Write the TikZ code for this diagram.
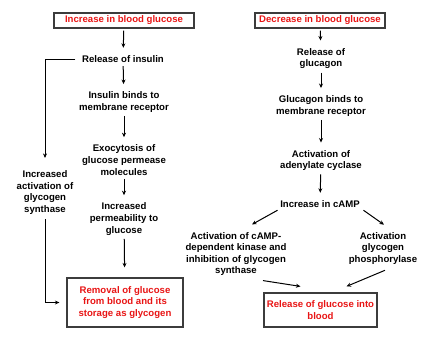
\documentclass[tikz,border=0pt]{standalone}
\usepackage{fontspec}
\setmainfont{Liberation Sans}
\usetikzlibrary{arrows.meta,calc}
\definecolor{mred}{RGB}{232,20,20}
\definecolor{boxgray}{RGB}{60,60,60}
\begin{document}
\begin{tikzpicture}[x=1pt,y=-1pt,
  txt/.style={font=\bfseries\fontsize{9.6}{11.6}\selectfont, align=center, inner sep=1.5pt},
  redbox/.style={draw=boxgray, line width=1.2pt, font=\bfseries\fontsize{9.6}{11.6}\selectfont, text=mred, align=center, inner sep=0pt},
  arr/.style={-{Stealth[length=4.5pt,width=4pt]}, line width=1pt},
  down/.style={arr, shorten <=2pt, shorten >=6pt}]
\useasboundingbox (0,0) rectangle (428,357);
% left column
\node[redbox, minimum width=140pt, minimum height=15pt] (inc) at (124,20.5) {\raisebox{-0.8pt}{Increase in blood glucose}};
\node[txt] (ins) at (123,59) {Release of insulin};
\node[txt] (bind) at (124,102) {Insulin binds to\\membrane receptor};
\node[txt] (exo) at (124,160) {Exocytosis of\\glucose permease\\molecules};
\node[txt] (perm) at (124,219) {Increased\\permeability to\\glucose};
\node[redbox, minimum width=116pt, minimum height=49pt] (rem) at (125,302.5) {Removal of glucose\\from blood and its\\storage as glycogen};
\node[txt] (act) at (45,192.5) {Increased\\activation of\\glycogen\\synthase};
% right column
\node[redbox, minimum width=130pt, minimum height=15pt] (dec) at (320,20.5) {\raisebox{-0.8pt}{Decrease in blood glucose}};
\node[txt] (glu) at (321,58.5) {Release of\\glucagon};
\node[txt] (gbind) at (321,106) {Glucagon binds to\\membrane receptor};
\node[txt] (ady) at (321,160.5) {Activation of\\adenylate cyclase};
\node[txt] (camp) at (320,204) {Increase in cAMP};
\node[txt] (kin) at (236,254) {Activation of cAMP-\\dependent kinase and\\inhibition of glycogen\\synthase};
\node[txt] (phos) at (383,248.5) {Activation\\glycogen\\phosphorylase};
\node[redbox, minimum width=113pt, minimum height=34pt] (rel) at (320.5,310) {Release of glucose into\\blood};
% left arrows
\draw[down] (inc) -- (ins);
\draw[down] (ins) -- (bind);
\draw[down] (bind) -- (exo);
\draw[down] (exo) -- (perm);
\draw[arr, shorten <=2pt, shorten >=10pt] (perm) -- (rem);
\draw[arr, shorten >=11pt] ([xshift=-5pt]ins.west) -| (act.north);
\draw[arr, shorten <=3pt, shorten >=7pt] (act.south) |- (rem.west);
% right arrows
\draw[down] (dec) -- (glu);
\draw[down] (glu) -- (gbind);
\draw[down] (gbind) -- (ady);
\draw[down] (ady) -- (camp);
\draw[arr] ($(camp.south west)+(-1,1)$) -- ($(kin.north)+(16,-6)$);
\draw[arr] ($(camp.south east)+(2,1)$) -- ($(phos.north)+(1,-6)$);
\draw[arr] ($(kin.south)+(27,3)$) -- ($(rel.north)+(-20,-6)$);
\draw[arr] ($(phos.south)+(2,4)$) -- ($(rel.north)+(26,-6)$);
\end{tikzpicture}
\end{document}
